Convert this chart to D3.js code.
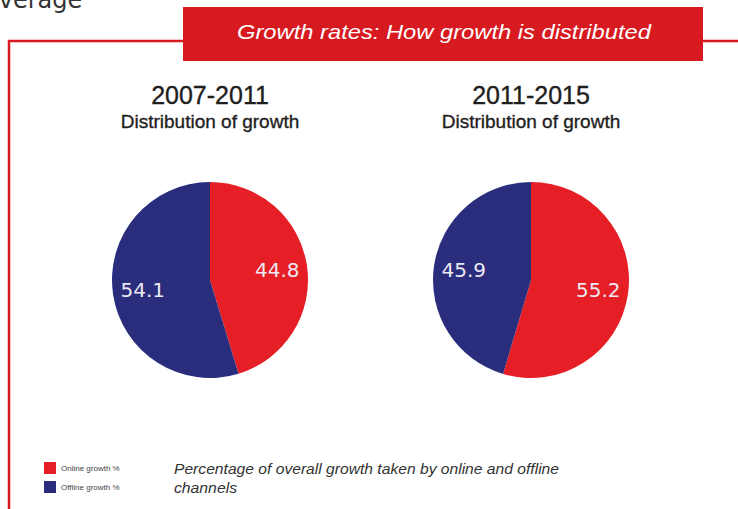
<!DOCTYPE html>
<html>
<head>
<meta charset="utf-8">
<script src="https://cdn.jsdelivr.net/npm/d3@7"></script>
<style>
  body { margin: 0; background: #fff; }
  svg { display: block; }
</style>
</head>
<body>
<svg id="chart" width="738" height="509"></svg>
<script>
// data
const periods = ["2007-2011", "2011-2015"];
const channels = ["Online growth %", "Offline growth %"];
const online = [44.8, 55.2];
const offline = [54.1, 45.9];
const channelColors = ["#e61e26", "#2a2d7c"];

const svg = d3.select("#chart");
const red = "#d71920";

// cut-off word from the page above
svg.append("text")
    .attr("x", -16)
    .attr("y", 8)
    .attr("font-family", "DejaVu Sans, Arial, sans-serif")
    .attr("font-size", 24)
    .attr("fill", "#333")
    .text("average");

// frame
const frame = svg.append("g")
    .attr("stroke", red)
    .attr("stroke-width", 2.5)
    .attr("fill", "none");
frame.append("path")
    .attr("d", "M9,509 V41 H190");
frame.append("path")
    .attr("d", "M700,41 H738");

// banner
svg.append("rect")
    .attr("x", 183)
    .attr("y", 7)
    .attr("width", 520)
    .attr("height", 54)
    .attr("fill", red);
svg.append("text")
    .attr("x", 444)
    .attr("y", 39)
    .attr("text-anchor", "middle")
    .attr("font-family", "Liberation Sans, Arial, sans-serif")
    .attr("font-style", "italic")
    .attr("font-size", 21)
    .attr("textLength", 414)
    .attr("lengthAdjust", "spacingAndGlyphs")
    .attr("fill", "#fff")
    .text("Growth rates: How growth is distributed");

// pies
const x = d3.scalePoint()
    .domain(periods)
    .range([210, 531]);
const color = d3.scaleOrdinal()
    .domain(channels)
    .range(channelColors);

const radius = 98;
const cy = 280;
const pie = d3.pie()
    .sort(null)
    .value(d => d.value);
const arc = d3.arc()
    .innerRadius(0)
    .outerRadius(radius);
const labelArc = d3.arc()
    .innerRadius(68)
    .outerRadius(68);

periods.forEach((p, i) => {
  const data = [
    { channel: channels[0], value: online[i] },
    { channel: channels[1], value: offline[i] }
  ];
  const g = svg.append("g")
      .attr("transform", `translate(${x(p)},${cy})`);

  g.selectAll("path")
    .data(pie(data))
    .join("path")
      .attr("d", arc)
      .attr("fill", d => color(d.data.channel));

  g.selectAll(".val")
    .data(pie(data))
    .join("text")
      .attr("class", "val")
      .attr("transform", d => `translate(${labelArc.centroid(d)})`)
      .attr("text-anchor", "middle")
      .attr("dominant-baseline", "central")
      .attr("font-family", "DejaVu Sans, Verdana, sans-serif")
      .attr("font-size", 20)
      .attr("fill", "#ece8f2")
      .text(d => d3.format(".1f")(d.data.value));

  const title = svg.append("g")
      .attr("text-anchor", "middle")
      .attr("font-family", "Liberation Sans, Arial, sans-serif")
      .attr("fill", "#1e1e1e")
      .attr("stroke", "#1e1e1e")
      .attr("stroke-width", 0.35);
  title.append("text")
      .attr("x", x(p))
      .attr("y", 104)
      .attr("font-size", 25)
      .text(p);
  title.append("text")
      .attr("x", x(p))
      .attr("y", 128)
      .attr("font-size", 19)
      .text("Distribution of growth");
});

// legend
const legend = svg.append("g")
    .attr("transform", "translate(44, 462)");
const items = legend.selectAll(".legend-item")
    .data(channels)
    .join("g")
    .attr("class", "legend-item")
    .attr("transform", (d, i) => `translate(0, ${i * 19})`);
items.append("rect")
    .attr("width", 12)
    .attr("height", 12)
    .attr("fill", d => color(d));
items.append("text")
    .attr("x", 17)
    .attr("y", 9)
    .attr("font-family", "Liberation Sans, Arial, sans-serif")
    .attr("font-size", 8)
    .attr("fill", "#444")
    .text(d => d);

const note = svg.append("g")
    .attr("font-family", "Liberation Sans, Arial, sans-serif")
    .attr("font-style", "italic")
    .attr("font-size", 14)
    .attr("fill", "#333");
note.append("text")
    .attr("x", 174)
    .attr("y", 474)
    .attr("textLength", 385)
    .attr("lengthAdjust", "spacingAndGlyphs")
    .text("Percentage of overall growth taken by online and offline");
note.append("text")
    .attr("x", 174)
    .attr("y", 493)
    .attr("textLength", 63)
    .attr("lengthAdjust", "spacingAndGlyphs")
    .text("channels");
</script>
</body>
</html>
